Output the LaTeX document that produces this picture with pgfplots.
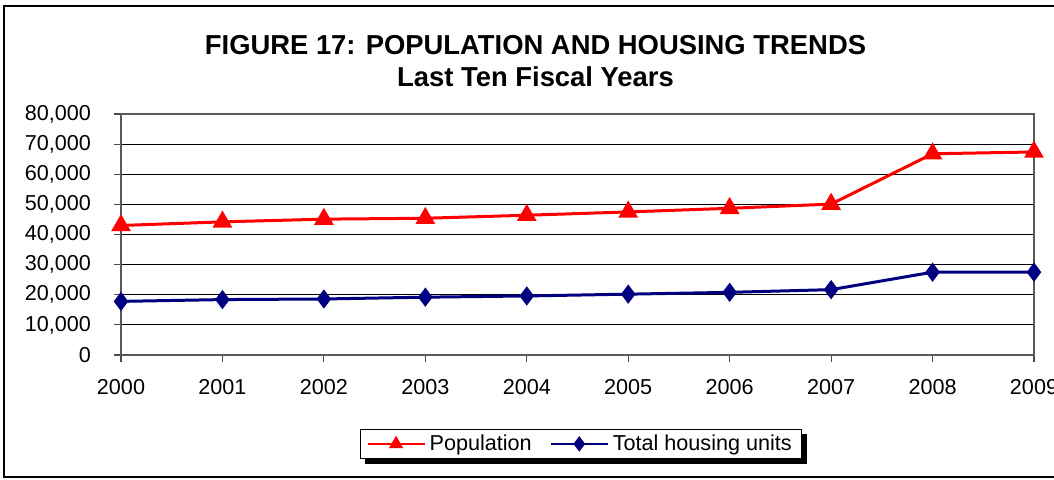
\documentclass[border=0pt]{standalone}
\usepackage{pgfplots}
\pgfplotsset{compat=1.18}
\usepackage{fontspec}
\setmainfont{Liberation Sans}
\definecolor{popred}{RGB}{255,0,0}
\definecolor{navyblue}{RGB}{0,0,128}
\begin{document}
\begin{tikzpicture}
\useasboundingbox (0,0) rectangle (527pt,239.5pt);
\clip (0,0) rectangle (527pt,239.5pt);
\fill[white] (0,0) rectangle (527pt,239.5pt);
\draw[black, line width=0.8pt] (2pt,1pt) rectangle (540pt,236.5pt);
\node[font=\fontsize{13.7}{16}\selectfont\bfseries] at (267.75pt,217pt) {FIGURE 17: POPULATION AND HOUSING TRENDS};
\node[font=\fontsize{13.7}{16}\selectfont\bfseries] at (267.75pt,201pt) {Last Ten Fiscal Years};
\begin{axis}[
  at={(60.5pt,62pt)}, anchor=south west, scale only axis,
  width=456.5pt, height=120.5pt,
  xmin=2000, xmax=2009, ymin=0, ymax=80000,
  xtick={2000,2001,2002,2003,2004,2005,2006,2007,2008,2009},
  xticklabels={2000,2001,2002,2003,2004,2005,2006,2007,2008,2009},
  ytick={0,10000,20000,30000,40000,50000,60000,70000,80000},
  scaled y ticks=false,
  /pgf/number format/assume math mode=true,
  /pgf/number format/1000 sep={,},
  tick label style={font=\fontsize{10.8}{13}\selectfont},
  yticklabel style={xshift=-8pt},
  xticklabel style={yshift=-5pt},
  xtick pos=bottom, ytick pos=left,
  tick align=outside, major tick length=3.5pt,
  tick style={gray!60!black, line width=0.6pt},
  ymajorgrids, major grid style={black, line width=0.5pt},
  axis line style={gray!70!black, line width=1pt},
  clip=false,
  legend style={at={(0.504,-0.369)}, anchor=center, draw=black,
    fill=white, font=\fontsize{10.8}{13}\selectfont,
    inner xsep=3pt, inner ysep=0.5pt, name=leg,
    /tikz/every even column/.append style={column sep=7pt}},
  legend columns=2,
  legend image post style={line width=1.1pt, mark size=3pt},
  legend image code/.code={\draw[mark repeat=2,mark phase=2] plot coordinates {(0cm,0cm) (0.5cm,0cm) (1.0cm,0cm)};},
]
\addplot[popred, line width=1.5pt, mark=triangle*, mark size=4.2pt, mark options={solid, fill=popred}]
  coordinates {(2000,43000) (2001,44200) (2002,45100) (2003,45400) (2004,46400)
               (2005,47500) (2006,48700) (2007,50100) (2008,66800) (2009,67400)};
\addlegendentry{Population}
\addplot[navyblue, line width=1.5pt, mark=diamond*, mark size=3.6pt, mark options={solid, fill=navyblue}]
  coordinates {(2000,17800) (2001,18400) (2002,18600) (2003,19200) (2004,19600)
               (2005,20200) (2006,20800) (2007,21700) (2008,27500) (2009,27500)};
\addlegendentry{Total housing units}
\end{axis}
\fill[black] ([shift={(2.5pt,-2.5pt)}]leg.south west) rectangle ([shift={(2.5pt,0pt)}]leg.south east);
\fill[black] ([shift={(0pt,-2.5pt)}]leg.north east) rectangle ([shift={(2.5pt,-2.5pt)}]leg.south east);
\end{tikzpicture}
\end{document}
